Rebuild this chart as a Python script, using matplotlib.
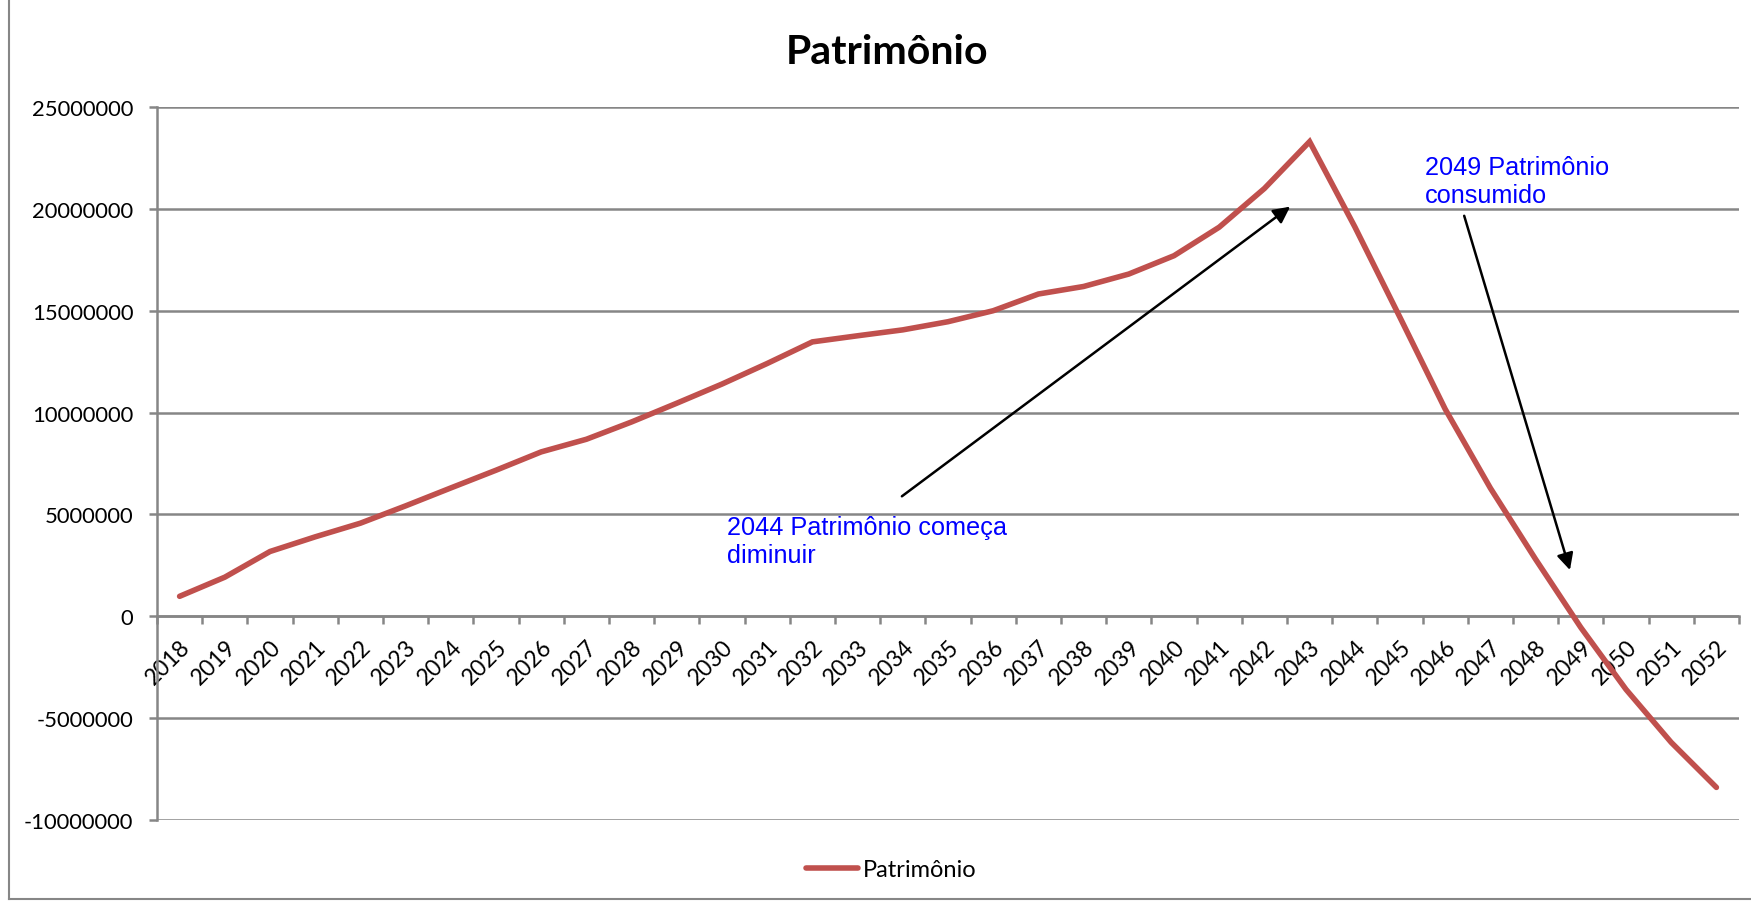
import matplotlib.pyplot as plt
import matplotlib.lines as mlines

# data
years = list(range(2018, 2053))
patrimonio = [0.98e6, 1.92e6, 3.18e6, 3.90e6, 4.57e6, 5.42e6, 6.30e6, 7.17e6, 8.07e6, 8.69e6,
              9.54e6, 10.46e6, 11.40e6, 12.41e6, 13.47e6, 13.77e6, 14.06e6, 14.46e6, 15.00e6,
              15.82e6, 16.19e6, 16.80e6, 17.70e6, 19.10e6, 21.00e6, 23.30e6, 19.12e6, 14.67e6,
              10.17e6, 6.29e6, 2.80e6, -0.55e6, -3.59e6, -6.19e6, -8.40e6]
y_ticks = [-10000000, -5000000, 0, 5000000, 10000000, 15000000, 20000000, 25000000]

gray = "#868686"
red = "#C0504D"
label_font = "Lato"

fig = plt.figure(figsize=(17.51, 9.04), dpi=100)
ax = fig.add_axes([157 / 1751, 83 / 904, 1582 / 1751, 713 / 904])

x = list(range(len(years)))
line, = ax.plot(x, patrimonio, color=red, linewidth=4.0, solid_capstyle="round",
                solid_joinstyle="miter", label="Patrimônio", zorder=3)

ax.set_xlim(-0.5, len(years) - 0.5)
ax.set_ylim(-10000000, 25000000)

# y axis
ax.set_yticks(y_ticks)
ax.set_yticklabels([str(v) for v in y_ticks], fontfamily=label_font, fontsize=15.8)
ax.grid(axis="y", color=gray, linewidth=1.8)
ax.set_axisbelow(True)
ax.tick_params(axis="y", direction="out", length=6, width=1.8, color=gray, pad=11)

# x axis crossing at zero, labels at centers, ticks at boundaries
ax.spines["bottom"].set_position(("data", 0))
ax.spines["bottom"].set_color(gray)
ax.spines["bottom"].set_linewidth(1.8)
ax.spines["left"].set_color(gray)
ax.spines["left"].set_linewidth(1.8)
ax.spines["top"].set_visible(False)
ax.spines["right"].set_visible(False)

ax.set_xticks(x)
ax.set_xticklabels([str(y) for y in years], fontfamily=label_font, fontsize=16.5,
                   rotation=45, ha="right", va="top", rotation_mode="anchor")
ax.tick_params(axis="x", which="major", length=0, pad=14)
ax.set_xticks([i - 0.5 for i in range(len(years) + 1)], minor=True)
ax.tick_params(axis="x", which="minor", direction="out", length=6, width=1.8, color=gray)

# annotations
ax.annotate("", xy=(24.57, 20110000), xytext=(15.98, 5890000),
            arrowprops=dict(arrowstyle="-|>", color="black", lw=1.8,
                            mutation_scale=25, shrinkA=0, shrinkB=0), zorder=4)
ax.annotate("", xy=(30.76, 2270000), xytext=(28.42, 19660000),
            arrowprops=dict(arrowstyle="-|>", color="black", lw=1.8,
                            mutation_scale=25, shrinkA=0, shrinkB=0), zorder=4)
ax.text(12.11, 4960000, "2044 Patrimônio começa\ndiminuir", color="#0000FF",
        fontfamily="Liberation Sans", fontsize=18.2, ha="left", va="top", linespacing=1.2)
ax.text(27.55, 22650000, "2049 Patrimônio\nconsumido", color="#0000FF",
        fontfamily="Liberation Sans", fontsize=18.2, ha="left", va="top", linespacing=1.2)

# title and legend
fig.text(887 / 1751, 1 - 52 / 904, "Patrimônio", fontfamily=label_font, fontweight="bold",
         fontsize=29.5, ha="center", va="center")
fig.legend(handles=[line], loc="center", bbox_to_anchor=(891 / 1751, 33 / 904),
           frameon=False, prop={"family": label_font, "size": 17},
           handlelength=2.2, handletextpad=0.2)

# chart frame lines (left and bottom)
fig.add_artist(mlines.Line2D([9 / 1751, 9 / 1751], [4 / 904, 1], color=gray, linewidth=1.5))
fig.add_artist(mlines.Line2D([9 / 1751, 1], [4 / 904, 4 / 904], color=gray, linewidth=1.5))

fig.savefig("out.png", dpi=100)
